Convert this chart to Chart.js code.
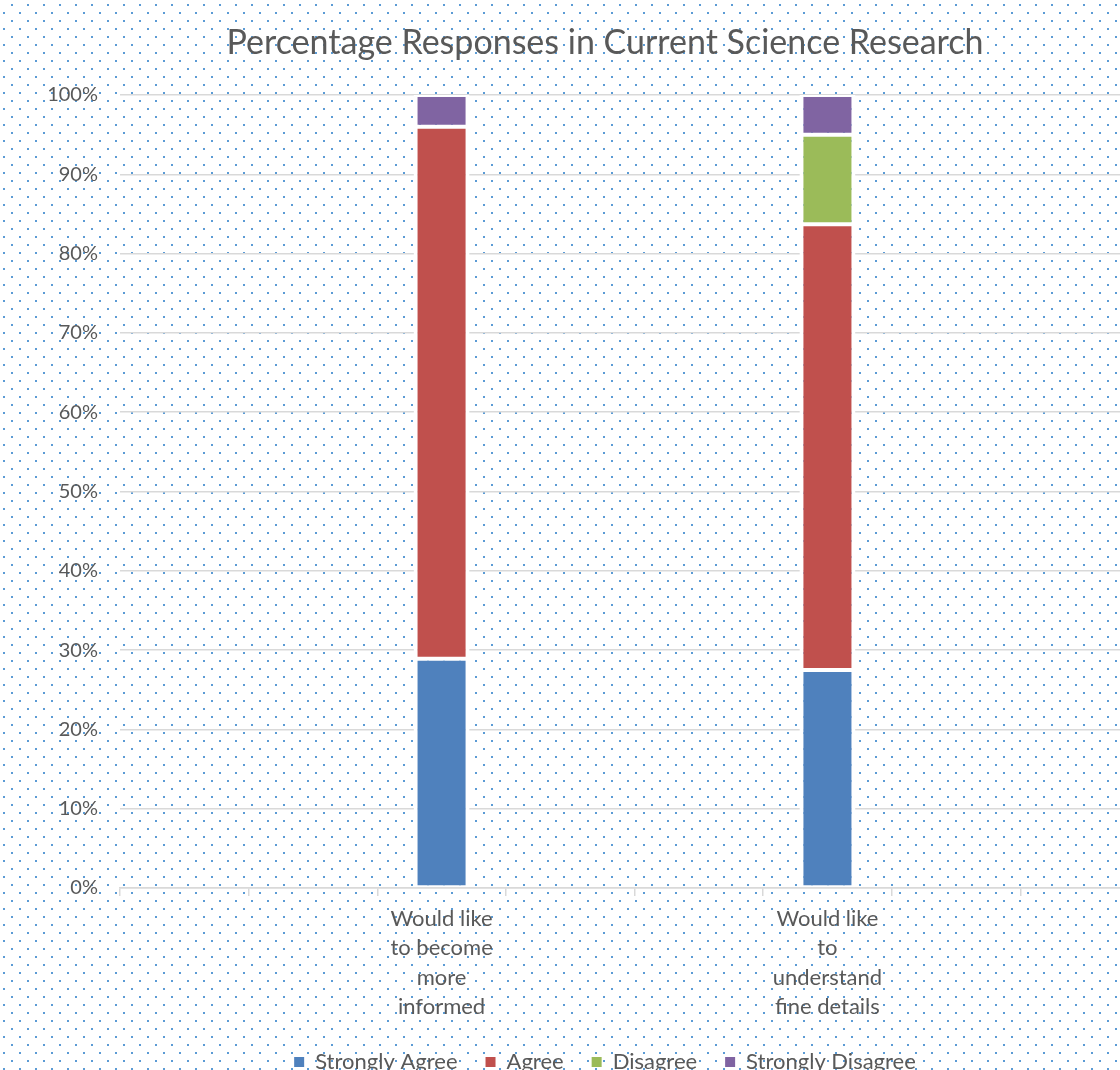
<!DOCTYPE html>
<html><head><meta charset="utf-8">
<script src="https://cdn.jsdelivr.net/npm/chart.js@4.4.1/dist/chart.umd.min.js"></script>
<style>
html,body{margin:0;padding:0;overflow:hidden;width:1120px;height:1070px;}
#wrap{position:absolute;left:0;top:0;width:1210px;height:1083px;}
canvas{display:block;}
</style></head><body>
<div id="wrap"><canvas id="c" width="1210" height="1083"></canvas></div>
<script>
// ---- data ----
const categories = [
  '', '',
  ['Would like', 'to become', 'more', 'informed'],
  '', '',
  ['Would like', 'to', 'understand', 'fine details'],
  '', ''
];
const seriesNames = ['Strongly Agree', 'Agree', 'Disagree', 'Strongly Disagree'];
const stronglyAgree    = [null, null, 28.9, null, null, 27.5, null, null];
const agree            = [null, null, 67.1, null, null, 56.2, null, null];
const disagree         = [null, null, 0,    null, null, 11.3, null, null];
const stronglyDisagree = [null, null, 4.0,  null, null, 5.0,  null, null];
const yTicks = [0, 10, 20, 30, 40, 50, 60, 70, 80, 90, 100];
const titleText = 'Percentage Responses in Current Science Research';

// ---- styles ----
const colors = ['#4f81bd', '#c0504d', '#9bbb59', '#8064a2'];
const textColor = '#595959';
const gridColor = '#d9d9d9';

// dotted background tile
const tile = document.createElement('canvas');
tile.width = 16; tile.height = 16;
const tc = tile.getContext('2d');
tc.fillStyle = '#5b9bd5';
tc.fillRect(11, 4, 2, 2);
tc.fillRect(3, 12, 2, 2);
document.body.style.background = '#ffffff url(' + tile.toDataURL() + ') repeat';

const FONT = 'Lato';
const seriesValues = [stronglyAgree, agree, disagree, stronglyDisagree];

function build() {
  Chart.defaults.font.family = FONT;
  Chart.defaults.color = textColor;
  new Chart(document.getElementById('c'), {
    type: 'bar',
    data: {
      labels: categories,
      datasets: seriesNames.map((name, i) => ({
        label: name,
        data: seriesValues[i],
        backgroundColor: colors[i],
        borderColor: '#ffffff',
        borderWidth: {top: 2, bottom: 2, left: 4, right: 4},
        borderSkipped: false,
        barPercentage: 0.4355,
        categoryPercentage: 1.0,
        yAxisID: 'y'
      }))
    },
    options: {
      responsive: false,
      devicePixelRatio: 1,
      animation: false,
      layout: {padding: {top: 23, right: 0, left: 0, bottom: 0}},
      plugins: {
        title: {
          display: true,
          text: titleText,
          color: textColor,
          font: {size: 34, weight: 'normal', lineHeight: 1.2},
          padding: {top: 0, bottom: 31.2}
        },
        legend: {
          position: 'bottom',
          labels: {
            color: textColor,
            font: {size: 22},
            usePointStyle: true,
            pointStyle: 'rect',
            boxWidth: 10,
            boxHeight: 10,
            padding: 28,
            generateLabels(chart) {
              return Chart.defaults.plugins.legend.labels.generateLabels(chart)
                .map(l => Object.assign(l, {lineWidth: 0, strokeStyle: 'rgba(0,0,0,0)'}));
            }
          }
        },
        tooltip: {enabled: false}
      },
      scales: {
        x: {
          stacked: true,
          ticks: {
            color: textColor,
            font: {size: 22, lineHeight: 1.34},
            maxRotation: 0, minRotation: 0,
            autoSkip: false,
            padding: 8
          },
          grid: {display: true, drawOnChartArea: false, color: gridColor, lineWidth: 1.5, tickLength: 8, offset: true},
          border: {display: true, color: gridColor, width: 1.5},
          afterFit(s) { s.height = 135; }
        },
        y: {
          stacked: true,
          position: 'left',
          min: 0, max: 100,
          afterBuildTicks(s) { s.ticks = yTicks.map(v => ({value: v})); },
          ticks: {
            color: textColor,
            font: {size: 20},
            padding: 22,
            callback: v => v + '%'
          },
          grid: {color: gridColor, lineWidth: 1.5, drawTicks: false},
          border: {display: false},
          afterFit(s) { s.width = 120; }
        },
        yRight: {
          type: 'linear',
          position: 'right',
          display: true,
          min: 0, max: 100,
          ticks: {display: false},
          grid: {display: false, drawTicks: false},
          border: {display: false},
          afterFit(s) { s.width = 61; }
        }
      }
    }
  });
}
if (document.fonts && document.fonts.load) {
  Promise.all([document.fonts.load('20px Lato'), document.fonts.load('34px Lato')]).then(build, build);
} else build();
</script>
</body></html>
